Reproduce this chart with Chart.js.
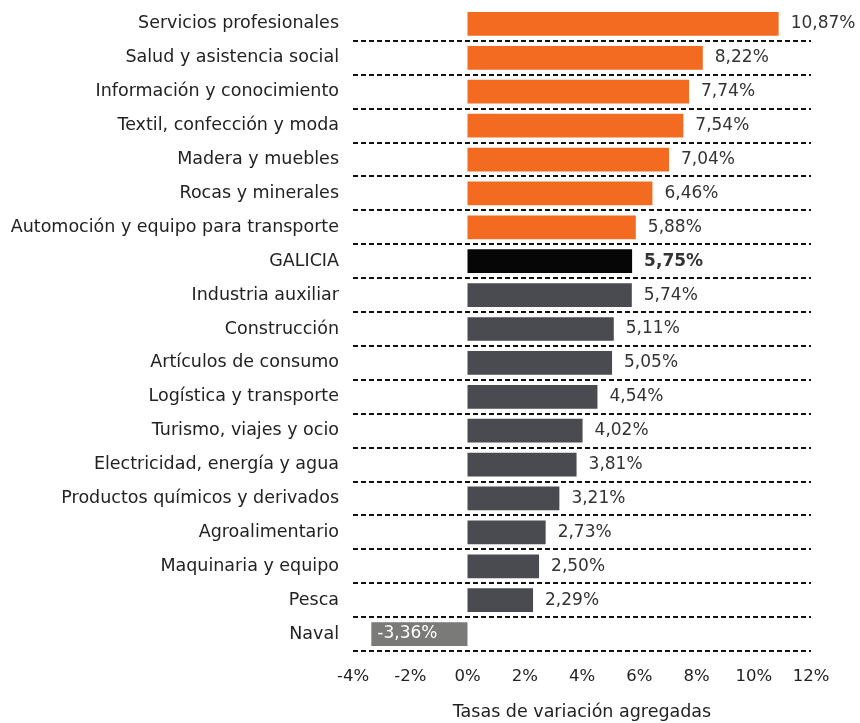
<!DOCTYPE html>
<html>
<head>
<meta charset="utf-8">
<script src="https://cdn.jsdelivr.net/npm/chart.js@4"></script>
<style>
  html, body { margin: 0; padding: 0; background: #fff; }
  #wrap { width: 860px; height: 723px; position: relative; }
</style>
</head>
<body>
<div id="wrap"><canvas id="chart"></canvas></div>
<script>
// Datos
const categories = [
    'Servicios profesionales', 'Salud y asistencia social', 'Información y conocimiento',
    'Textil, confección y moda', 'Madera y muebles', 'Rocas y minerales',
    'Automoción y equipo para transporte', 'GALICIA', 'Industria auxiliar', 'Construcción',
    'Artículos de consumo', 'Logística y transporte', 'Turismo, viajes y ocio',
    'Electricidad, energía y agua', 'Productos químicos y derivados', 'Agroalimentario',
    'Maquinaria y equipo', 'Pesca', 'Naval'
];
const values = [10.87, 8.22, 7.74, 7.54, 7.04, 6.46, 5.88, 5.75, 5.74, 5.11, 5.05, 4.54, 4.02, 3.81, 3.21, 2.73, 2.50, 2.29, -3.36];
const xTicks = [-4, -2, 0, 2, 4, 6, 8, 10, 12];
const topCount = 7;           // sectores destacados en naranja
const totalLabel = 'GALICIA';

const FONT = "'DejaVu Sans', sans-serif";
const barColors = values.map((v, i) => {
    if (categories[i] === totalLabel) return '#060606';
    if (i < topCount) return '#F26B21';
    if (v < 0) return '#7A7A78';
    return '#4A4B50';
});
const fmt = v => v.toFixed(2).replace('.', ',') + '%';

// Etiquetas de valor
const valueLabels = {
    id: 'valueLabels',
    afterDatasetsDraw(chart) {
        const ctx = chart.ctx;
        const meta = chart.getDatasetMeta(0);
        ctx.save();
        ctx.textBaseline = 'middle';
        ctx.textAlign = 'left';
        meta.data.forEach((bar, i) => {
            const v = values[i];
            const bold = categories[i] === totalLabel;
            ctx.font = (bold ? 'bold ' : '') + '17px ' + FONT;
            if (v < 0) {
                ctx.fillStyle = '#ffffff';
                ctx.fillText(fmt(v), Math.min(bar.x, bar.base) + 6, bar.y);
            } else {
                ctx.fillStyle = '#333333';
                ctx.fillText(fmt(v), bar.x + 12, bar.y);
            }
        });
        ctx.restore();
    }
};

window.onload = () => {
    const ctx = document.getElementById('chart').getContext('2d');
    new Chart(ctx, {
        type: 'bar',
        data: {
            labels: categories,
            datasets: [{ data: values, backgroundColor: barColors, barPercentage: 0.7, categoryPercentage: 1 }]
        },
        options: {
            indexAxis: 'y',
            responsive: true,
            maintainAspectRatio: false,
            animation: false,
            layout: { padding: { top: 7, right: 49, left: 0, bottom: 0 } },
            plugins: { legend: { display: false }, tooltip: { enabled: false } },
            scales: {
                x: {
                    min: xTicks[0], max: xTicks[xTicks.length - 1],
                    afterBuildTicks: scale => { scale.ticks = xTicks.map(v => ({ value: v })); },
                    afterFit: scale => { scale.height = 72; scale.paddingLeft = 0; scale.paddingRight = 0; },
                    ticks: { callback: v => v + '%', color: '#222', font: { family: FONT, size: 16.5 }, padding: 16, maxRotation: 0 },
                    grid: { display: false, drawTicks: false },
                    border: { display: false },
                    title: { display: true, text: 'Tasas de variación agregadas', color: '#222',
                             font: { family: FONT, size: 17.5 }, padding: { top: 0, bottom: 0 } }
                },
                y: {
                    afterFit: scale => { scale.width = 353; scale.paddingTop = 0; scale.paddingBottom = 0; },
                    ticks: { color: '#222', font: { family: FONT, size: 17.5 }, padding: 14, autoSkip: false },
                    grid: {
                        drawTicks: false,
                        lineWidth: 2,
                        color: c => c.index === 0 ? 'rgba(0,0,0,0)' : '#111'
                    },
                    border: { display: false, dash: [5, 3] }
                }
            }
        },
        plugins: [valueLabels]
    });
};
</script>
</body>
</html>
